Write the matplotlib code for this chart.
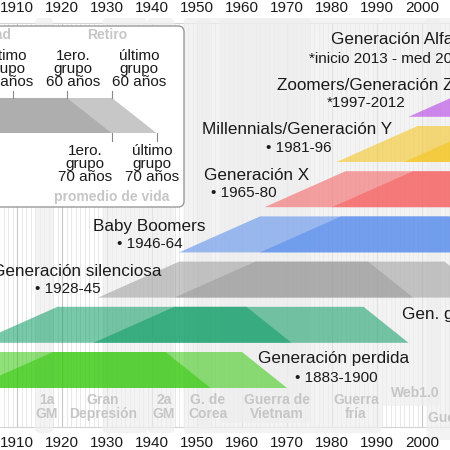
import numpy as np
import matplotlib
matplotlib.use('Agg')
import matplotlib.pyplot as plt
from matplotlib.patches import FancyBboxPatch, Polygon

plt.rcParams['font.family'] = ['Liberation Sans', 'DejaVu Sans']

# generations: birth ranges
gen_names = ['Generación perdida', 'Gen. grandiosa', 'Generación silenciosa',
             'Baby Boomers', 'Generación X', 'Millennials/Generación Y',
             'Zoomers/Generación Z', 'Generación Alfa']
gen_start = [1883, 1901, 1928, 1946, 1965, 1981, 1997, 2013]
gen_end = [1900, 1927, 1945, 1964, 1980, 1996, 2012, 2025]
gen_years = ['• 1883-1900', '• 1901-27', '• 1928-45', '• 1946-64',
             '• 1965-80', '• 1981-96', '*1997-2012', '*inicio 2013 - med 2020s']
gen_colors = ['#33c70a', '#0a9b64', '#9a9a9a', '#5289ed',
              '#f65b5b', '#f6c313', '#b030e6', '#3fb6e8']

# life stages (ages)
age_adult = 18
age_retire = 60
age_life = 70

# historical events
ev_names = ['1a\nGM', 'Gran\nDepresión', '2a\nGM', 'G. de\nCorea',
            'Guerra de\nVietnam', 'Guerra\nfría', 'Web1.0',
            'Guerra contra el terrorismo']
ev_start = [1914, 1929, 1939, 1950, 1955, 1947, 1991, 2001]
ev_end = [1918, 1939, 1945, 1953, 1975, 1991, 2004, 2021]

decades = list(range(1910, 2010, 10))

# layout (pixels)
row_bottom0 = 388
row_step = 45.2
band_h = 36
ev_top = 18
ev_bottom = [433, 433, 433, 430, 423, 433, 406, 440]
ev_label_xy = [(47, 407), (103, 407), (164, 407), (208, 407),
               (277, 407), (356, 407), (415, 393), (428, 418)]
name_xy = [(258, 359), (402, 315), (-8, 271), (93, 226), (204, 175),
           (202, 130), (277, 85), (331, 40)]
years_xy = [(295, 378), (470, 333), (35, 289), (117, 244), (211, 193),
            (266, 148), (327, 103), (309, 59)]

fig = plt.figure(figsize=(4.5, 4.5), dpi=100)
ax = fig.add_axes([0, 0, 1, 1])
ax.set_xlim(1906.22, 2006.22)
ax.set_ylim(450, 0)
ax.axis('off')

# year grid
for yr in range(1895, 2015):
    if yr % 10 == 0:
        ax.plot([yr, yr], [22.5, 427], color='#c6c6c6', lw=0.8, zorder=1)
    else:
        ax.plot([yr, yr], [22.5, 427], color='#e4e4e4', lw=0.6, zorder=1)
ax.axhline(22.5, color='#d4d4d4', lw=0.8, zorder=1)
ax.axhline(427, color='#d4d4d4', lw=0.8, zorder=1)

# event bands
for s, e, b in zip(ev_start, ev_end, ev_bottom):
    p = FancyBboxPatch((s, ev_top), e - s, b - ev_top,
                       boxstyle='round,pad=0,rounding_size=1',
                       mutation_aspect=4.5, fc='#eeeeee', ec='none',
                       alpha=0.7, zorder=2)
    ax.add_patch(p)

# generation bands: first and last cohort, overlap gets darker
for i, (a, b) in enumerate(zip(gen_start, gen_end)):
    bot = row_bottom0 - row_step * i
    top = bot - band_h
    for yr in (a, b):
        ax.fill([yr, yr + age_adult, yr + age_retire, yr + age_life],
                [bot, top, top, bot], color=gen_colors[i], alpha=0.55,
                lw=0, zorder=3)

for d in decades:
    ax.text(d, 8, str(d), ha='center', va='center', fontsize=11, color='#1a1a1a')
    ax.text(d, 443, str(d), ha='center', va='center', fontsize=11, color='#1a1a1a')

# overlay axes in pixels for labels and the legend box
ax2 = fig.add_axes([0, 0, 1, 1])
ax2.set_xlim(0, 450)
ax2.set_ylim(450, 0)
ax2.axis('off')

for name, (x, y) in zip(ev_names, ev_label_xy):
    ha = 'left' if name.startswith('Guerra contra') else 'center'
    ax2.text(x, y, name, ha=ha, va='center', fontsize=10, fontweight='bold',
             color='#c6c6c6', linespacing=1.05, zorder=5)

for i in range(len(gen_names)):
    ax2.text(name_xy[i][0], name_xy[i][1], gen_names[i], ha='left', va='center',
             fontsize=12.3, color='#1a1a1a', zorder=6)
    ax2.text(years_xy[i][0], years_xy[i][1], gen_years[i], ha='left', va='center',
             fontsize=11, color='#1a1a1a', zorder=6)

# legend
box = FancyBboxPatch((-20, 26), 204, 181, boxstyle='round,pad=0,rounding_size=6',
                     fc='white', ec='#9a9a9a', lw=1, zorder=7)
ax2.add_patch(box)
s = 4.45
lt, lb = 98, 133
for x0 in (67 - age_retire * s, 112 - age_retire * s):
    ax2.add_patch(Polygon([(x0, lb), (x0 + age_adult * s, lt),
                           (x0 + age_retire * s, lt), (x0 + age_life * s, lb)],
                          closed=True, fc='#9a9a9a', alpha=0.55, lw=0, zorder=8))
for x in (13, 67, 112):
    ax2.plot([x, x], [91, lt], color='#888888', lw=0.8, zorder=8)
for x in (111.5, 156.5):
    ax2.plot([x, x], [lb, 141], color='#888888', lw=0.8, zorder=8)

ax2.text(11, 35, 'Mayoría de edad', ha='right', va='center', fontsize=10,
         fontweight='bold', color='#c6c6c6', zorder=9)
ax2.text(107, 35, 'Retiro', ha='center', va='center', fontsize=10,
         fontweight='bold', color='#c6c6c6', zorder=9)
ax2.text(112, 197, 'promedio de vida', ha='center', va='center', fontsize=10,
         fontweight='bold', color='#c6c6c6', zorder=9)

leg_top = [('último\ngrupo\n18 años', 6), ('1ero.\ngrupo\n60 años', 73),
           ('último\ngrupo\n60 años', 139)]
for t, x in leg_top:
    ax2.text(x, 69, t, ha='center', va='center', fontsize=11, color='#1a1a1a',
             linespacing=0.9, zorder=9)
leg_bot = [('1ero.\ngrupo\n70 años', 85), ('último\ngrupo\n70 años', 152)]
for t, x in leg_bot:
    ax2.text(x, 164, t, ha='center', va='center', fontsize=11, color='#1a1a1a',
             linespacing=0.9, zorder=9)

fig.savefig('out.png', dpi=100)
